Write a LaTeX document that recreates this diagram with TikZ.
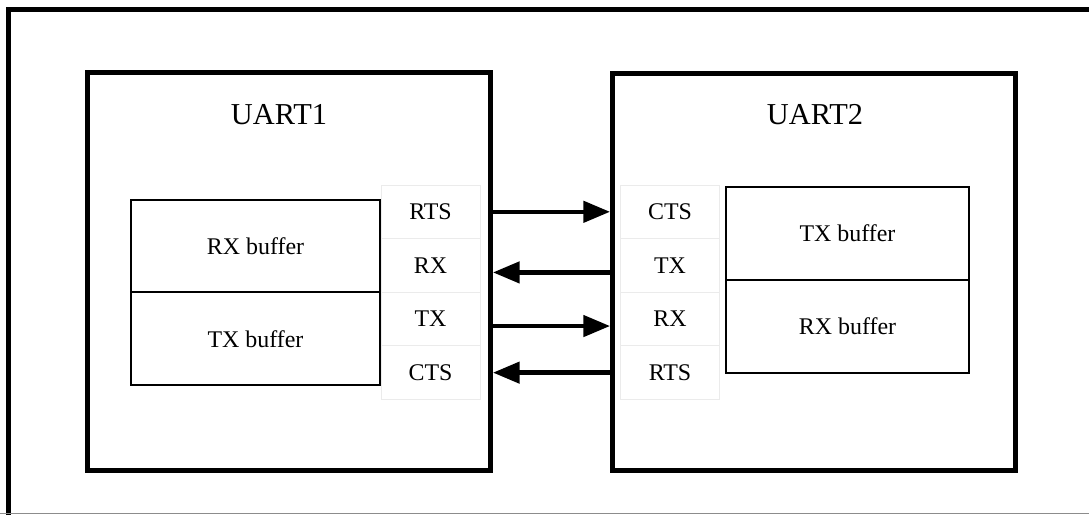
\documentclass[tikz,border=0pt]{standalone}
\usepackage{fontspec}
\setmainfont{Liberation Serif}
\usetikzlibrary{positioning,arrows.meta,fit,calc}

\tikzset{
  uartbox/.style={draw,line width=3.5pt,inner sep=0pt},
  uarttitle/.style={font=\fontsize{21.6}{24}\selectfont},
  bufbox/.style={draw,line width=1.4pt,outer sep=0pt,minimum height=2.32cm,
    font=\fontsize{17}{20}\selectfont},
  pincell/.style={draw=black!8,line width=0.6pt,outer sep=0pt,
    minimum width=2.475cm,minimum height=1.34cm,font=\fontsize{17}{20}\selectfont},
  link/.style={line width=3.1pt,-{Triangle[length=19pt,width=15pt]}},
}

\begin{document}
\begin{tikzpicture}[x=0.025cm,y=-0.025cm]
  \useasboundingbox (0,0) rectangle (1089,515);
  % outer frame (cropped)
  \draw[line width=3.5pt] (8.5,515) -- (8.5,9.5) -- (1089,9.5);
  \draw[black!45,line width=0.8pt] (0,513.5) -- (1089,513.5);

  % the two UARTs
  \node[uartbox,fit={(87.5,72.5) (490.5,470.5)}] (uartA) {};
  \node[uartbox,fit={(612.5,73.5) (1015.5,470.5)}] (uartB) {};
  \node[uarttitle] (nameA) at (279,115) {UART1};
  \node[uarttitle] (nameB) at (815,115) {UART2};

  % UART1 buffers and pins
  \node[bufbox,minimum width=6.225cm] (rxbufA) at (255.5,246) {RX buffer};
  \node[bufbox,minimum width=6.225cm,below=0pt of rxbufA] (txbufA) {TX buffer};
  \node[pincell] (rtsA) at (430.5,211.8) {RTS};
  \node[pincell,below=0pt of rtsA] (rxA) {RX};
  \node[pincell,below=0pt of rxA] (txA) {TX};
  \node[pincell,below=0pt of txA] (ctsA) {CTS};

  % UART2 pins and buffers
  \node[pincell] (ctsB) at (670,211.8) {CTS};
  \node[pincell,below=0pt of ctsB] (txB) {TX};
  \node[pincell,below=0pt of txB] (rxB) {RX};
  \node[pincell,below=0pt of rxB] (rtsB) {RTS};
  \node[bufbox,minimum width=6.075cm] (txbufB) at (847.5,233.5) {TX buffer};
  \node[bufbox,minimum width=6.075cm,below=0pt of txbufB] (rxbufB) {RX buffer};

  % handshake and data lines
  \draw[link] (uartA.east |- rtsA) -- (uartB.west |- rtsA);
  \draw[link] ($(uartB.west |- rxA)+(0,7)$) -- ($(uartA.east |- rxA)+(0,7)$);
  \draw[link] ($(uartA.east |- txA)+(0,7)$) -- ($(uartB.west |- txA)+(0,7)$);
  \draw[link] (uartB.west |- ctsA) -- (uartA.east |- ctsA);
\end{tikzpicture}
\end{document}
